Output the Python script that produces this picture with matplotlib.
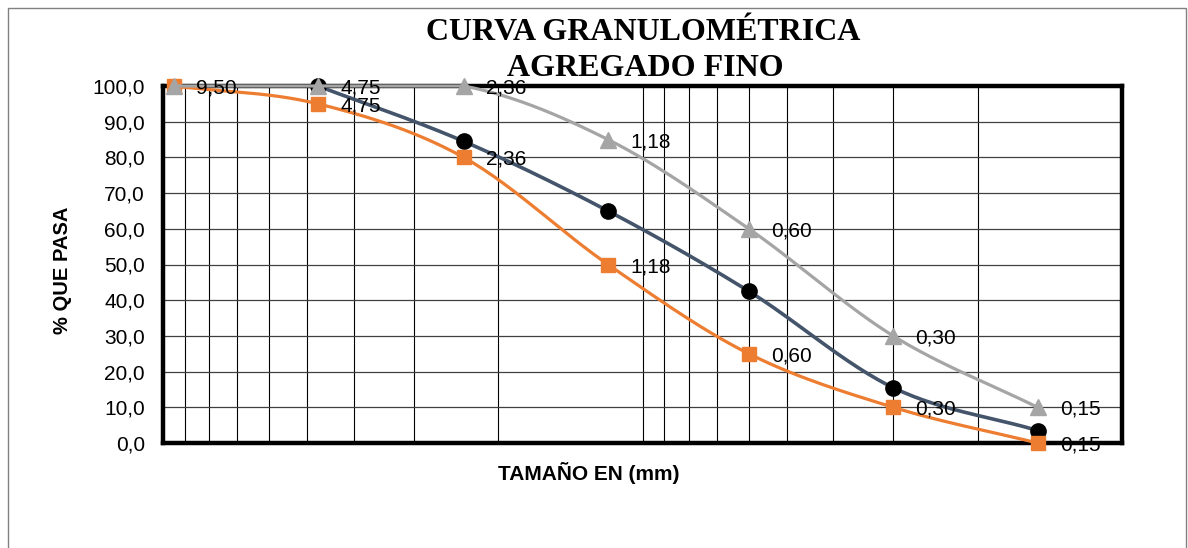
import matplotlib
matplotlib.use('Agg')
import matplotlib.pyplot as plt
from matplotlib.ticker import FixedLocator, NullFormatter, FuncFormatter
from matplotlib.patches import Rectangle
import numpy as np

# sieve openings (mm) and % passing for each curve
sizes = [9.50, 4.75, 2.36, 1.18, 0.60, 0.30, 0.15]
lim_inf = [100.0, 95.0, 80.0, 50.0, 25.0, 10.0, 0.0]
lim_sup = [100.0, 100.0, 100.0, 85.0, 60.0, 30.0, 10.0]
muestra_sizes = [4.75, 2.36, 1.18, 0.60, 0.30, 0.15]
muestra = [100.0, 84.5, 65.0, 42.5, 15.5, 3.5]
labels = ['9,50', '4,75', '2,36', '1,18', '0,60', '0,30', '0,15']

ORANGE = '#ED7D31'
GRAY = '#A5A5A5'
SLATE = '#44546A'


def smooth(xs, ys, n=30):
    # catmull-rom through the points, done in log-x space
    px = np.log10(np.asarray(xs, float))
    py = np.asarray(ys, float)
    px = np.concatenate([[2 * px[0] - px[1]], px, [2 * px[-1] - px[-2]]])
    py = np.concatenate([[2 * py[0] - py[1]], py, [2 * py[-1] - py[-2]]])
    outx, outy = [], []
    t = np.linspace(0, 1, n)
    for i in range(1, len(px) - 2):
        for p, out in ((px, outx), (py, outy)):
            p0, p1, p2, p3 = p[i - 1], p[i], p[i + 1], p[i + 2]
            out.extend(0.5 * ((2 * p1) + (-p0 + p2) * t
                              + (2 * p0 - 5 * p1 + 4 * p2 - p3) * t ** 2
                              + (-p0 + 3 * p1 - 3 * p2 + p3) * t ** 3))
    return 10 ** np.array(outx), np.clip(np.array(outy), 0, 100)


plt.rcParams['font.family'] = ['Liberation Sans', 'DejaVu Sans']

fig = plt.figure(figsize=(11.88, 5.48), dpi=100)
fig.patches.append(Rectangle((8 / 1188, -0.05), 1178 / 1188, 1.05 - 8 / 548,
                             transform=fig.transFigure, fill=False,
                             edgecolor='#808080', lw=1.0))
ax = fig.add_axes([163 / 1188, 1 - 443 / 548, 959 / 1188, 357 / 548])

ax.set_xscale('log')
ax.set_xlim(10, 0.1)
ax.set_ylim(0, 100)

# grid
minor = [m * d for d in (0.1, 1.0) for m in range(2, 10)] + [1.0]
for v in minor:
    ax.axvline(v, color='black', lw=0.8, zorder=1)
for h in range(10, 100, 10):
    ax.axhline(h, color='#404040', lw=0.9, zorder=1)

ax.xaxis.set_major_locator(FixedLocator([]))
ax.xaxis.set_minor_locator(FixedLocator([]))
ax.xaxis.set_major_formatter(NullFormatter())
ax.set_yticks(range(0, 101, 10))
ax.yaxis.set_major_formatter(FuncFormatter(lambda v, p: f'{v:.1f}'.replace('.', ',')))
ax.tick_params(axis='y', length=0, pad=13, labelsize=15)
ax.tick_params(axis='x', length=0)

for s in ax.spines.values():
    s.set_linewidth(3.2)
    s.set_color('black')
    s.set_zorder(3)

# sample curve
mx, my = smooth(muestra_sizes, muestra)
ax.plot(mx, my, color=SLATE, lw=2.6, zorder=4, clip_on=False, solid_capstyle='round')
ax.plot(muestra_sizes, muestra, ls='none', marker='o', ms=11, color='black', zorder=5, clip_on=False)

# lower limit
ox, oy = smooth(sizes, lim_inf)
ax.plot(ox, oy, color=ORANGE, lw=2.3, zorder=6, clip_on=False, solid_capstyle='round')
ax.plot(sizes, lim_inf, ls='none', marker='s', ms=10.5, color=ORANGE, zorder=7, clip_on=False)

# upper limit
sx, sy = smooth(sizes, lim_sup)
ax.plot(sx, sy, color=GRAY, lw=2.3, zorder=8, clip_on=False, solid_capstyle='round')
ax.plot(sizes, lim_sup, ls='none', marker='^', ms=11, color=GRAY, zorder=9, clip_on=False)

for x, y, t in zip(sizes, lim_inf, labels):
    ax.annotate(t, (x, y), xytext=(16, -1.5), textcoords='offset points',
                va='center', ha='left', fontsize=15, zorder=10, annotation_clip=False)
for x, y, t in zip(sizes[1:], lim_sup[1:], labels[1:]):
    ax.annotate(t, (x, y), xytext=(16, -1.5), textcoords='offset points',
                va='center', ha='left', fontsize=15, zorder=10, annotation_clip=False)

fig.text(62 / 1188, 1 - 270 / 548, '% QUE PASA', rotation=90, ha='center', va='center',
         fontsize=14.5, fontweight='bold')
fig.text(589 / 1188, 1 - 473 / 548, 'TAMAÑO EN (mm)', ha='center', va='center',
         fontsize=15, fontweight='bold')

serif = ['Liberation Serif', 'DejaVu Serif']
fig.text(643 / 1188, 1 - 33 / 548, 'CURVA GRANULOMÉTRICA', ha='center', va='center',
         fontsize=23, fontweight='bold', family=serif, zorder=10)
fig.text(645 / 1188, 1 - 68 / 548, 'AGREGADO FINO', ha='center', va='center',
         fontsize=23, fontweight='bold', family=serif, zorder=10)

fig.savefig('out.png', dpi=100)
